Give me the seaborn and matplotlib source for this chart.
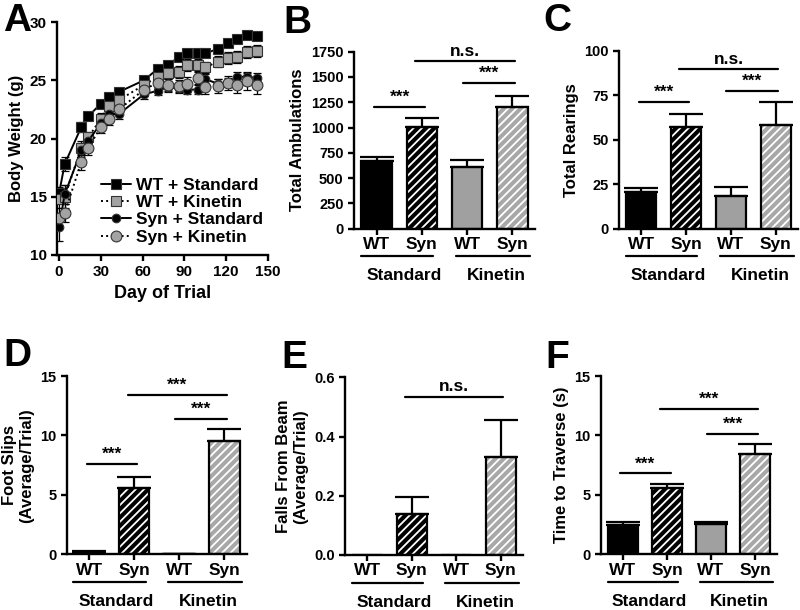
import matplotlib
matplotlib.use("Agg")
import matplotlib.pyplot as plt
import matplotlib.transforms as mtransforms
from matplotlib.patches import Rectangle
import seaborn as sns
import pandas as pd
import numpy as np


# -------------------- Data --------------------

# panel A: body weight over time
days = [0, 4, 16, 21, 30, 36, 43, 61, 71, 78, 86, 92, 100, 105, 114, 121, 128, 135, 142]
wt_std = [15.3, 17.8, 21.0, 21.9, 23.0, 23.6, 24.0, 25.0, 26.0, 26.3, 27.0, 27.3, 27.3, 27.3, 27.7, 28.2, 28.5, 28.9, 28.8]
wt_kin = [14.8, 15.0, 19.2, 20.1, 21.7, 22.8, 23.3, 24.6, 25.3, 25.6, 25.7, 26.3, 26.3, 26.1, 26.6, 26.9, 27.0, 27.4, 27.5]
syn_std = [12.4, 15.2, 19.0, 19.8, 21.3, 22.1, 22.1, 23.8, 24.1, 24.4, 24.3, 24.2, 24.2, 25.1, 24.7, 24.8, 25.3, 25.3, 25.2]
syn_kin = [13.2, 13.6, 18.0, 19.2, 21.0, 21.7, 22.5, 24.2, 24.8, 24.6, 24.5, 24.7, 25.2, 24.4, 24.5, 24.8, 24.6, 24.9, 24.6]
wt_std_err = [0.5, 0.6, 0.4, 0.3, 0.3, 0.3, 0.3, 0.3, 0.3, 0.3, 0.3, 0.3, 0.3, 0.3, 0.3, 0.3, 0.3, 0.3, 0.3]
wt_kin_err = [0.8, 1.0, 0.6, 0.5, 0.5, 0.5, 0.5, 0.5, 0.5, 0.5, 0.5, 0.5, 0.5, 0.5, 0.5, 0.5, 0.5, 0.5, 0.5]
syn_std_err = [1.2, 0.8, 0.6, 0.5, 0.5, 0.5, 0.4, 0.4, 0.4, 0.4, 0.4, 0.4, 0.4, 0.4, 0.4, 0.4, 0.4, 0.4, 0.4]
syn_kin_err = [0.8, 0.8, 0.7, 0.6, 0.5, 0.5, 0.5, 0.5, 0.5, 0.5, 0.5, 0.6, 0.5, 0.6, 0.6, 0.6, 0.7, 0.7, 0.8]
series_names = ["WT + Standard", "WT + Kinetin", "Syn + Standard", "Syn + Kinetin"]

# bar panels B-F (order: WT Std, Syn Std, WT Kin, Syn Kin)
groups = ["WT-Standard", "Syn-Standard", "WT-Kinetin", "Syn-Kinetin"]
genotypes = ["WT", "Syn", "WT", "Syn"]
diets = ["Standard", "Kinetin"]

ambulations = [670, 1005, 610, 1200]
ambulations_err = [40, 85, 70, 110]
rearings = [20.5, 57, 18.5, 58.5]
rearings_err = [2.5, 7.5, 5, 12.5]
foot_slips = [0.2, 5.6, 0.03, 9.5]
foot_slips_err = [0.1, 0.9, 0.02, 1.0]
falls = [0.0, 0.14, 0.0, 0.33]
falls_err = [0.0, 0.055, 0.0, 0.125]
traverse = [2.5, 5.55, 2.55, 8.4]
traverse_err = [0.25, 0.4, 0.2, 0.85]

# significance brackets: (x0, x1, y, text)
sig_b = [(-0.05, 1.07, 1200, "***"), (1.9, 3.05, 1440, "***"), (0.85, 3.05, 1660, "n.s.")]
sig_c = [(-0.05, 1.07, 71, "***"), (1.9, 3.05, 77.5, "***"), (0.85, 3.05, 89.5, "n.s.")]
sig_d = [(-0.05, 1.07, 7.6, "***"), (1.9, 3.05, 11.4, "***"), (0.85, 3.05, 13.4, "***")]
sig_e = [(0.85, 3.05, 0.535, "n.s.")]
sig_f = [(-0.07, 1.08, 6.8, "***"), (1.92, 3.07, 10.1, "***"), (0.85, 3.07, 12.2, "***")]


# -------------------- Style --------------------

sns.set_theme(style="ticks")
plt.rcParams["font.family"] = ["Liberation Sans", "DejaVu Sans"]
plt.rcParams.update({
    "font.weight": "bold",
    "axes.labelweight": "bold",
    "axes.linewidth": 1.7,
    "axes.edgecolor": "black",
    "axes.labelcolor": "black",
    "text.color": "black",
    "xtick.color": "black",
    "ytick.color": "black",
    "xtick.major.width": 1.7,
    "ytick.major.width": 1.7,
    "xtick.major.size": 4,
    "ytick.major.size": 4,
    "hatch.linewidth": 1.3,
})

W, H = 800, 610


def px_rect(l, r, t, b):
    return [l / W, 1 - b / H, (r - l) / W, (b - t) / H]


fig = plt.figure(figsize=(8, 6.1), dpi=100)
fig.patch.set_facecolor("white")


# -------------------- Panel A --------------------

axA = fig.add_axes(px_rect(57, 268, 22, 255))
vals_list = [wt_std, wt_kin, syn_std, syn_kin]
errs_list = [wt_std_err, wt_kin_err, syn_std_err, syn_kin_err]
markers = ["s", "s", "o", "o"]
faces = ["black", "#a3a3a3", "black", "#a3a3a3"]
lstyles = ["-", ":", "-", ":"]
msizes = [7.2, 7.2, 6.2, 7.8]
for name, vals, errs, mk, fc, ls, ms in zip(series_names, vals_list, errs_list,
                                            markers, faces, lstyles, msizes):
    axA.errorbar(days, vals, yerr=errs, fmt="none", ecolor="black",
                 elinewidth=0.9, capsize=3, capthick=0.9, zorder=2)
    sns.lineplot(x=days, y=vals, ax=axA, color="black", marker=mk, markersize=ms,
                 markerfacecolor=fc, markeredgecolor="#333333", markeredgewidth=0.8,
                 linestyle=ls, linewidth=1.4, label=name, zorder=3)
axA.set_xlim(-1.5, 150)
axA.set_ylim(10, 30)
axA.set_xticks([0, 30, 60, 90, 120, 150])
axA.set_yticks([10, 15, 20, 25, 30])
axA.set_xlabel("Day of Trial", fontsize=13)
axA.set_ylabel("Body Weight (g)", fontsize=12)
axA.tick_params(labelsize=11)
axA.legend(frameon=False, prop={"weight": "bold", "size": 12.5}, handlelength=1.7,
           labelspacing=0.12, handletextpad=0.3, borderpad=0.1,
           loc="lower left", bbox_to_anchor=(0.16, 0.0))
sns.despine(ax=axA)


# -------------------- Bar panels --------------------

bar_colors = ["black", "black", "#a0a0a0", "#a8a8a8"]
hatched = [False, True, False, True]


def bar_panel(ax, values, errs, ylim, yticks, ylabel, sigs, yfmt=None):
    df = pd.DataFrame({"group": groups, "value": values})
    sns.barplot(data=df, x="group", y="value", hue="group", order=groups,
                hue_order=groups, palette=bar_colors, width=0.67, legend=False,
                errorbar=None, ax=ax, linewidth=0)
    for p, h in zip(ax.patches, hatched):
        if h:
            p.set_edgecolor("white")
            p.set_hatch("////")
        p.set_linewidth(0)
        ax.add_patch(Rectangle(p.get_xy(), p.get_width(), p.get_height(),
                               fill=False, edgecolor="black", linewidth=1.6, zorder=3))
    x = np.arange(len(values))
    keep = np.array(errs) > 0
    ax.errorbar(x[keep], np.array(values)[keep],
                yerr=[np.zeros(keep.sum()), np.array(errs)[keep]],
                fmt="none", ecolor="black", elinewidth=1.6, capsize=12, capthick=1.6,
                zorder=4)
    ax.set_xlim(-0.5, 3.5)
    ax.set_ylim(*ylim)
    ax.set_yticks(yticks)
    if yfmt:
        ax.set_yticklabels([yfmt.format(v) for v in yticks])
    ax.set_xticks(x)
    ax.set_xticklabels(genotypes, fontsize=12.5)
    ax.tick_params(axis="x", pad=2)
    ax.tick_params(axis="y", labelsize=10.5)
    ax.set_xlabel("")
    ax.set_ylabel(ylabel, fontsize=12)
    sns.despine(ax=ax)

    # diet group underlines and labels
    trans = mtransforms.blended_transform_factory(ax.transData, ax.transAxes)
    for (x0, x1), xc, name in zip([(-0.35, 1.25), (1.75, 3.4)], [0.6, 2.65], diets):
        ax.plot([x0, x1], [-0.155, -0.155], color="black", lw=1.6,
                transform=trans, clip_on=False)
        ax.text(xc, -0.265, name, transform=trans, ha="center", va="center",
                fontsize=12.5, fontweight="bold")

    # significance brackets
    for x0, x1, y, txt in sigs:
        ax.plot([x0, x1], [y, y], color="black", lw=1.6, clip_on=False)
        ax.annotate(txt, xy=((x0 + x1) / 2, y), xytext=(0, 1.5),
                    textcoords="offset points", ha="center", va="bottom",
                    fontsize=12.5, fontweight="bold", annotation_clip=False)


axB = fig.add_axes(px_rect(354, 535, 51.7, 228.7))
bar_panel(axB, ambulations, ambulations_err, (0, 1750), range(0, 1751, 250),
          "Total Ambulations", sig_b)

axC = fig.add_axes(px_rect(619, 798, 50.7, 228.7))
bar_panel(axC, rearings, rearings_err, (0, 100), [0, 25, 50, 75, 100],
          "Total Rearings", sig_c)

axD = fig.add_axes(px_rect(66.7, 247, 376, 554.3))
bar_panel(axD, foot_slips, foot_slips_err, (0, 15), [0, 5, 10, 15],
          "Foot Slips\n(Average/Trial)", sig_d)

axE = fig.add_axes(px_rect(345, 523, 377.3, 555))
bar_panel(axE, falls, falls_err, (0, 0.6), [0.0, 0.2, 0.4, 0.6],
          "Falls From Beam\n(Average/Trial)", sig_e, yfmt="{:.1f}")

axF = fig.add_axes(px_rect(601, 777, 376, 554.3))
bar_panel(axF, traverse, traverse_err, (0, 15), [0, 5, 10, 15],
          "Time to Traverse (s)", sig_f)


# -------------------- Panel letters --------------------

for letter, (lx, ly) in zip("ABCDEF", [(3, 3), (283, 5), (543, 3),
                                        (3, 338), (281, 340), (545, 340)]):
    fig.text(lx / W, 1 - ly / H, letter, fontsize=28, fontweight="bold",
             ha="left", va="top")

fig.savefig("out.png", dpi=100, facecolor="white")
